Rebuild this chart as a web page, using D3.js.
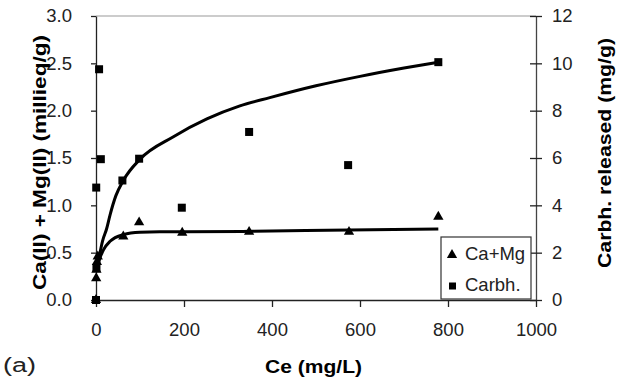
<!DOCTYPE html>
<html>
<head>
<meta charset="utf-8">
<script src="https://cdn.jsdelivr.net/npm/d3@7"></script>
<style>
  body { margin: 0; background: #fff; }
  text { font-family: Arial, "Liberation Sans", sans-serif; }
</style>
</head>
<body>
<svg id="chart" width="628" height="378"></svg>
<script>
// Ca+Mg uptake (left axis, millieq/g) vs Ce (mg/L)
const caMgPoints = [
  [0, 0], [0.5, 0.23], [1, 0.32], [2, 0.4], [4, 0.46],
  [62, 0.67], [98, 0.82], [196, 0.71], [348, 0.72], [575, 0.72], [778, 0.88]
];
// carbohydrates released (right axis, mg/g)
const carbhPoints = [
  [0, 0], [1, 1.35], [0.5, 4.75], [7, 9.75], [11, 5.95],
  [60, 5.05], [98, 5.97], [195, 3.9], [348, 7.1], [573, 5.7], [778, 10.05]
];
// trend lines
const caMgTrend = [
  [3, 0.3], [8, 0.43], [13, 0.49], [17, 0.53], [32, 0.62], [62, 0.69],
  [100, 0.715], [145, 0.72], [200, 0.72], [350, 0.725], [575, 0.74], [778, 0.75]
];
const carbhTrend = [
  [8, 1.9], [15, 2.5], [24, 3.0], [32, 3.6], [45, 4.4], [62, 5.05],
  [100, 5.95], [176, 6.9], [252, 7.65], [327, 8.2], [395, 8.55],
  [500, 9.05], [600, 9.45], [700, 9.8], [778, 10.05]
];
const xTicks = [0, 200, 400, 600, 800, 1000];
const yLeftTicks = [0, 0.5, 1, 1.5, 2, 2.5, 3];
const yRightTicks = [0, 2, 4, 6, 8, 10, 12];
const legendItems = ["Ca+Mg", "Carbh."];

const svg = d3.select("#chart");
const plotL = 96, plotR = 536, plotT = 16, plotB = 300;
const fs = 18.5;

const x = d3.scaleLinear().domain([0, 1000]).range([plotL, plotR]);
const yL = d3.scaleLinear().domain([0, 3]).range([plotB, plotT]);
const yR = d3.scaleLinear().domain([0, 12]).range([plotB, plotT]);

// top border of plot area
svg.append("line")
  .attr("x1", plotL).attr("x2", plotR).attr("y1", plotT).attr("y2", plotT)
  .attr("stroke", "#999").attr("stroke-width", 1.2);

// axes
const gx = svg.append("g").attr("transform", `translate(0,${plotB})`)
  .call(d3.axisBottom(x).tickValues(xTicks).tickFormat(d3.format("d"))
    .tickSize(7).tickSizeOuter(0).tickPadding(16));

const gl = svg.append("g").attr("transform", `translate(${plotL},0)`)
  .call(d3.axisLeft(yL).tickValues(yLeftTicks).tickFormat(d3.format(".1f"))
    .tickSize(5).tickSizeOuter(0).tickPadding(19));

const gr = svg.append("g").attr("transform", `translate(${plotR},0)`)
  .call(d3.axisRight(yR).tickValues(yRightTicks).tickSize(6).tickSizeOuter(0).tickPadding(10));
gr.selectAll(".tick line").attr("x1", -6);

[gx, gl, gr].forEach(g => {
  g.selectAll("text").attr("font-size", fs).attr("fill", "#222")
    .attr("font-family", "Arial, 'Liberation Sans', sans-serif");
  g.selectAll("path, line").attr("stroke", "#222").attr("stroke-width", 1.3);
});
gr.select(".domain").attr("stroke", "#444");

// trend lines
const line = (ys) => d3.line().x(d => x(d[0])).y(d => ys(d[1])).curve(d3.curveMonotoneX);
svg.append("path").datum(carbhTrend).attr("d", line(yR))
  .attr("fill", "none").attr("stroke", "#000").attr("stroke-width", 3);
svg.append("path").datum(caMgTrend).attr("d", line(yL))
  .attr("fill", "none").attr("stroke", "#000").attr("stroke-width", 3);

// markers
const tri = d3.symbol().type(d3.symbolTriangle).size(46);
svg.append("g").selectAll("path").data(caMgPoints).join("path")
  .attr("d", tri)
  .attr("transform", d => `translate(${x(d[0])},${yL(d[1])})`)
  .attr("fill", "#000");

svg.append("g").selectAll("rect").data(carbhPoints).join("rect")
  .attr("x", d => x(d[0]) - 4).attr("y", d => yR(d[1]) - 4)
  .attr("width", 8).attr("height", 8).attr("fill", "#000");

// legend
const lg = svg.append("g");
lg.append("rect").attr("x", 441).attr("y", 237).attr("width", 90).attr("height", 62)
  .attr("fill", "#fff").attr("stroke", "#333").attr("stroke-width", 1.2);
legendItems.forEach((name, i) => {
  const cy = 255 + i * 31;
  if (i === 0) {
    lg.append("path").attr("d", tri).attr("transform", `translate(452,${cy})`).attr("fill", "#000");
  } else {
    lg.append("rect").attr("x", 449).attr("y", cy - 3.5).attr("width", 7).attr("height", 7).attr("fill", "#000");
  }
  lg.append("text").attr("x", 465).attr("y", cy + 5).attr("font-size", fs).attr("fill", "#222").text(name);
});

// titles
svg.append("text").attr("x", 313.5).attr("y", 373)
  .attr("text-anchor", "middle").attr("font-size", fs).attr("font-weight", "bold")
  .attr("textLength", 97).attr("lengthAdjust", "spacingAndGlyphs")
  .text("Ce (mg/L)");
svg.append("text").attr("x", 3).attr("y", 372).attr("font-size", 20).attr("fill", "#222")
  .attr("textLength", 33).attr("lengthAdjust", "spacingAndGlyphs")
  .text("(a)");
svg.append("text").attr("transform", `translate(46,162.5) rotate(-90)`)
  .attr("text-anchor", "middle").attr("font-size", fs).attr("font-weight", "bold")
  .attr("textLength", 255).attr("lengthAdjust", "spacingAndGlyphs")
  .text("Ca(II) + Mg(II) (millieq/g)");
svg.append("text").attr("transform", `translate(611,153) rotate(-90)`)
  .attr("text-anchor", "middle").attr("font-size", fs).attr("font-weight", "bold")
  .attr("textLength", 230).attr("lengthAdjust", "spacingAndGlyphs")
  .text("Carbh. released (mg/g)");
</script>
</body>
</html>
